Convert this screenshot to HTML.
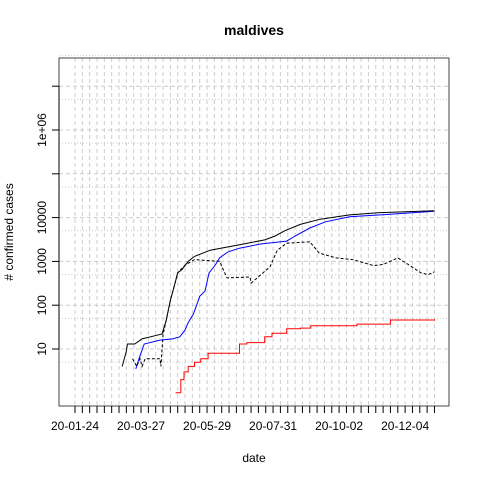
<!DOCTYPE html>
<html><head><meta charset="utf-8"><style>body{margin:0;background:#fff}svg{display:block;font-family:"Liberation Sans",sans-serif}</style></head>
<body>
<svg id="c" width="480" height="480" xmlns="http://www.w3.org/2000/svg"></svg>
<script>
const xLabels=["20-01-24","20-03-27","20-05-29","20-07-31","20-10-02","20-12-04"];
const yTicks=[10,100,1000,10000,100000,1000000,10000000];
const yTickLabels=["10","100","1000","10000","","1e+06",""];
const totalDays=[45,47,49,50,57,64,76,83,87,91,95,98,102,108,114,129,157,181,191,200,215,234,262,291,329,343];
const totalVals=[4,6,9,13,13,17,20,22,45,130,290,550,650,1000,1300,1800,2400,3100,3800,5000,7000,9200,11500,13000,14000,14300];
const recDays=[58,60,62,66,81,93,100,105,108,113,116,119,124,128,134,138,146,157,177,202,210,224,239,262,291,320,343];
const recVals=[3.5,5,7,13,16,17,19,27,40,63,100,160,210,550,830,1200,1650,2000,2500,2900,3800,5800,8000,10500,11500,12800,14000];
const actDays=[55,59,62,64,67,81,82,84,87,91,95,98,105,114,138,145,167,168,186,193,202,224,233,249,265,285,294,308,318,330,337,343];
const actVals=[6,4,6,4,6,6,4,21,45,130,290,550,820,1100,1000,420,440,320,750,1800,2600,2800,1550,1200,1100,800,850,1200,850,550,500,580];
const deathDays=[96,100,101,104,108,114,120,127,135,150,157,160,164,176,181,188,202,215,225,269,301,343];
const deathVals=[1,1,2,3,4,5,6,8,8,8,13,13,14,14,19,23,29,30,34,37,46,48];
const svg=document.getElementById('c');const NS="http://www.w3.org/2000/svg";
const L=59,R=449,T=58,B=406;
const x=d=>75+d*1.048;
const y=v=>349-(Math.log10(v)-1)*43.8;
function el(t,a,txt){const e=document.createElementNS(NS,t);for(const k in a)e.setAttribute(k,a[k]);if(txt!==undefined)e.textContent=txt;svg.appendChild(e);return e;}
for(let i=0;i<=49;i++){const g=el('line',{x1:x(i*7),x2:x(i*7),y1:T,y2:B,stroke:'#cccccc','stroke-dasharray':'4,3'});

}
for(let k=0;k<=7;k++){const v=Math.pow(10,k);
if(v>=10){const g=el('line',{x1:L,x2:R,y1:y(v),y2:y(v),stroke:'#cccccc','stroke-dasharray':'4,3'});

}
const m=el('line',{x1:L,x2:R,y1:y(5*v),y2:y(5*v),stroke:'#cccccc','stroke-dasharray':'1,2'});

}
function line(ds,vs,col,dash,name,step){let pts=[];
ds.forEach((d,i)=>{if(step&&i>0)pts.push(x(d).toFixed(1)+','+y(vs[i-1]).toFixed(1));pts.push(x(d).toFixed(1)+','+y(vs[i]).toFixed(1));});
const e=el('polyline',{points:pts.join(' '),fill:'none',stroke:col,'stroke-width':1,'stroke-dasharray':dash||''});

}
line(deathDays,deathVals,'#ff0000','','deaths-line',true);
line(actDays,actVals,'#000','3,2','active-line',false);
line(recDays,recVals,'#0000ff','','recovered-line',false);
line(totalDays,totalVals,'#000','','confirmed-line',false);
const box=el('rect',{x:L,y:T,width:R-L,height:B-T,fill:'none',stroke:'#444'});


for(let i=0;i<=51;i++){if(x(i*7)>R-10)break;const t=el('line',{x1:x(i*7),x2:x(i*7),y1:B,y2:B+7,stroke:'#000'});

}
xLabels.forEach((s,i)=>{const t=el('text',{x:x(i*63),y:430,'text-anchor':'middle','font-size':12},s);

});
yTicks.forEach((v,i)=>{const t=el('line',{x1:L-7,x2:L,y1:y(v),y2:y(v),stroke:'#000'});


if(yTickLabels[i]){const l=el('text',{x:0,y:0,transform:`translate(46,${y(v)}) rotate(-90)`,'text-anchor':'middle','font-size':12},yTickLabels[i]);

}});
const ya=el('line',{x1:L,x2:L,y1:y(1e7),y2:y(10),stroke:'#000'});


const ti=el('text',{x:254,y:35,'text-anchor':'middle','font-size':14,'font-weight':'bold'},'maldives');


const xt=el('text',{x:254,y:462,'text-anchor':'middle','font-size':12},'date');


const yt=el('text',{x:0,y:0,transform:'translate(13,232) rotate(-90)','text-anchor':'middle','font-size':12},'# confirmed cases');


</script>
</body></html>
